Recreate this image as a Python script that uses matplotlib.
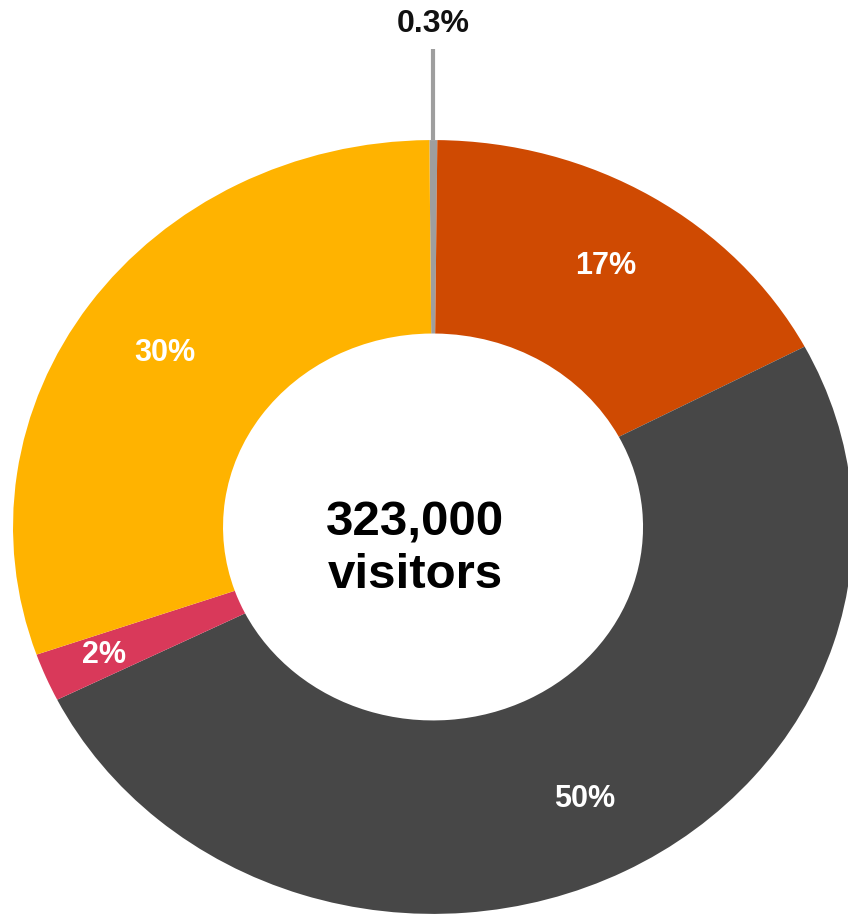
import numpy as np
from matplotlib import pyplot as plt

#Data
labels = ["0.3%", "17%", "50%", "2%", "30%"]
values = [0.3, 17, 50, 2, 30]
colors = ["#9E9E9E", "#CF4A02", "#474747", "#D9395A", "#FFB300"]
center_lines = ["323,000", "visitors"]

plt.rcParams["font.family"] = ["Liberation Sans", "DejaVu Sans"]

fig = plt.figure(figsize=(8.48, 9.17), dpi=100)
ax = fig.add_axes([0, 0, 1, 1])

wedges, _ = ax.pie(values, colors=colors, startangle=90.5, counterclock=False,
                   wedgeprops=dict(width=0.5, linewidth=0))

#image is a bit stretched horizontally, so no equal aspect
ax.set_aspect("auto")
ax.set_xlim(-1.031, 0.988)
ax.set_ylim(-1.008, 1.362)
ax.axis("off")

#labels inside the ring
label_r = [None, 0.79, 0.79, 0.85, 0.78]
for w, lab, r in zip(wedges, labels, label_r):
    mid = np.deg2rad((w.theta1 + w.theta2) / 2)
    if r is None:
        # small slice: leader line up to the label above the ring
        x = np.cos(mid)
        ax.plot([x, x], [1.0, 1.235], color="#9E9E9E", lw=3, solid_capstyle="butt")
        ax.text(x, 1.30, lab, ha="center", va="center", fontsize=23,
                fontweight="bold", color="#111111")
    else:
        ax.text(r*np.cos(mid), r*np.sin(mid), lab, ha="center", va="center",
                fontsize=22, fontweight="bold", color="white")

ax.text(-0.043, -0.021, center_lines[0], ha="center", va="baseline",
        fontsize=35.5, fontweight="bold", color="black")
ax.text(-0.043, -0.158, center_lines[1], ha="center", va="baseline",
        fontsize=35.5, fontweight="bold", color="black")

plt.savefig("out.png", dpi=100)
